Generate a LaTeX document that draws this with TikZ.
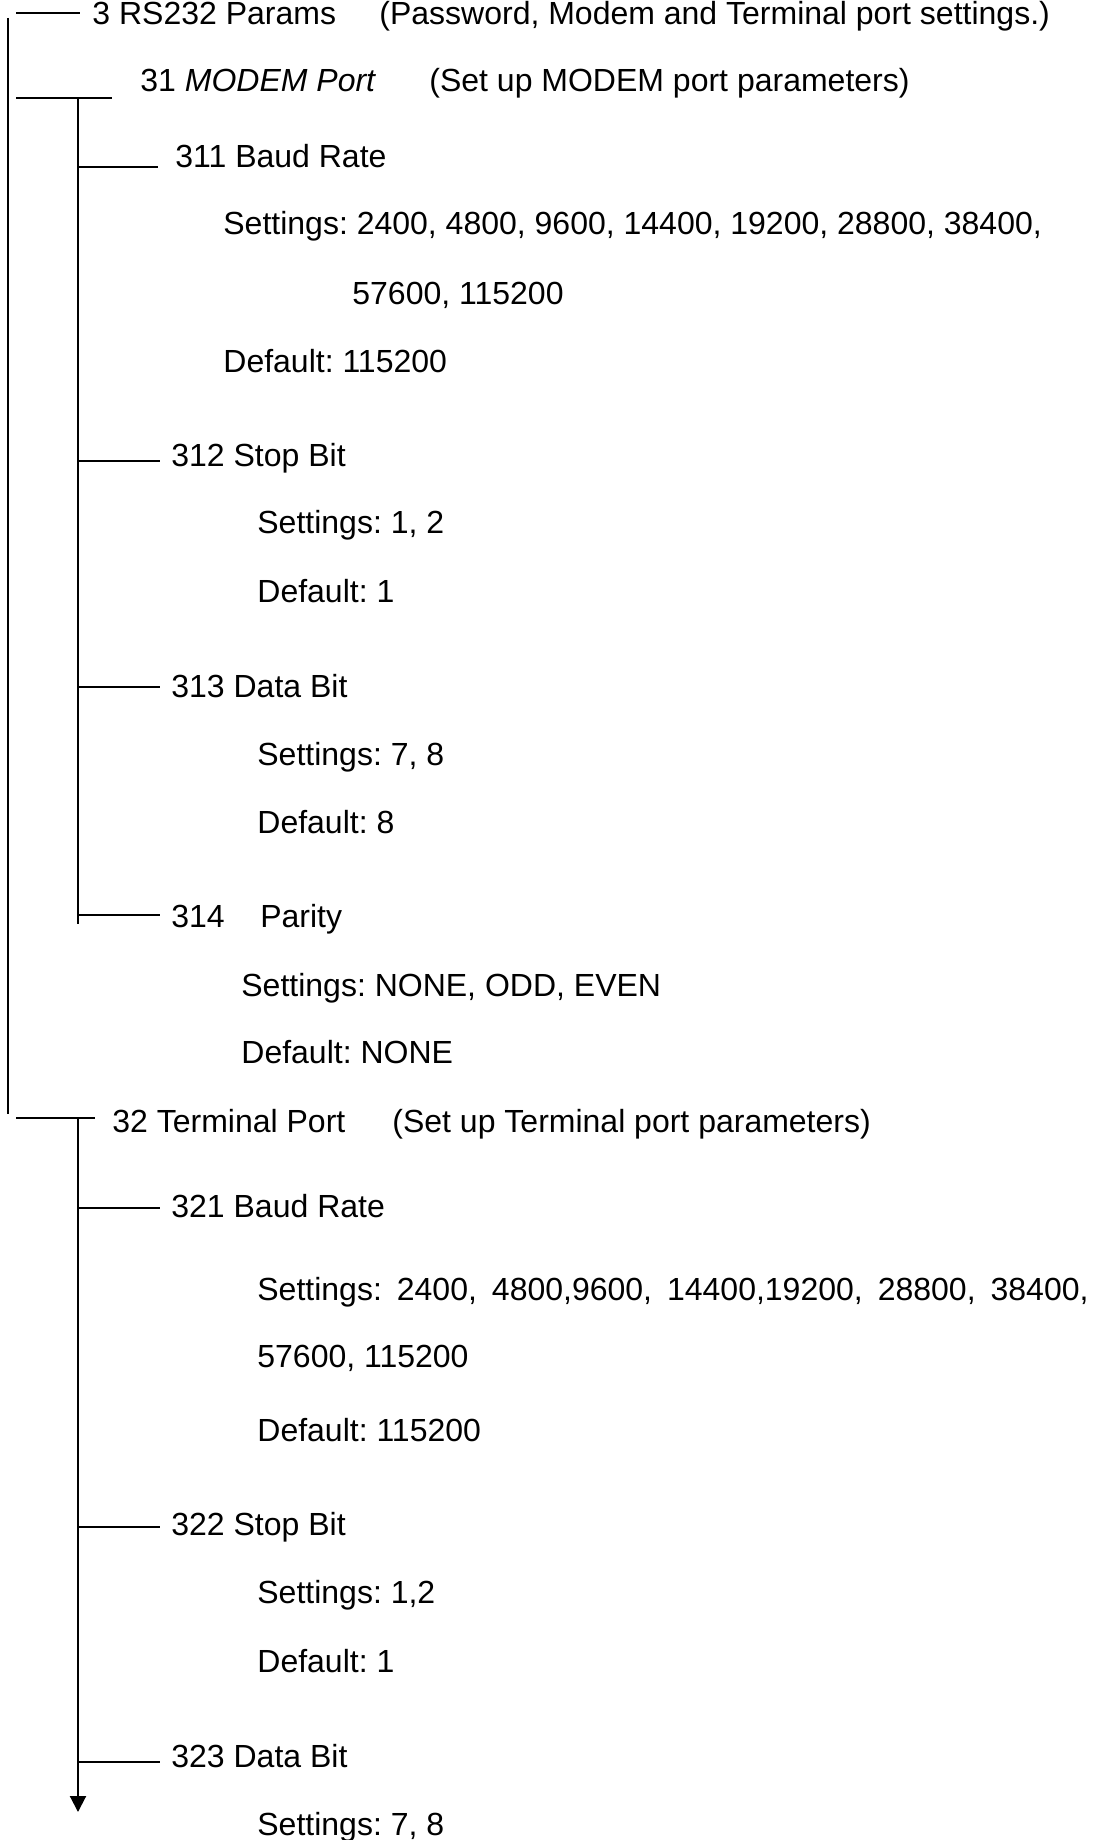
\documentclass[tikz,border=0pt]{standalone}
\usepackage{fontspec}
\setmainfont{Liberation Sans}
\usetikzlibrary{arrows.meta,calc}
\frenchspacing
\newcommand{\wsp}{\hspace{7.5pt}}

\begin{document}
\begin{tikzpicture}[
  x=0.5pt, y=-0.5pt,
  >={Triangle[width=8pt,length=8pt]},
  font=\fontsize{16}{19}\selectfont,
  txt/.style={anchor=base west, inner sep=0pt},
  tree/.style={line width=1pt},
  arr/.style={tree, ->}
]
\useasboundingbox (0,0) rectangle (1099,1840);

% menu 3
\node[txt] (p3) at (92,25) {3 RS232 Params};
\node[txt] (p3n) at (379,25) {(Password, Modem and Terminal port settings.)};

% menu 31
\node[txt] (p31) at (140,92) {31 \textit{MODEM Port}};
\node[txt] (p31n) at (429,92) {(Set up MODEM port parameters)};
\node[txt] (p311) at (175,168) {311 Baud Rate};
\node[txt] (s311a) at (223,235) {Settings: 2400, 4800, 9600, 14400, 19200, 28800, 38400,};
\node[txt] (s311b) at (352,305) {57600, 115200};
\node[txt] (d311) at (223,372) {Default: 115200};
\node[txt] (p312) at (171,466) {312 Stop Bit};
\node[txt] (s312) at (257,533) {Settings: 1, 2};
\node[txt] (d312) at (257,602) {Default: 1};
\node[txt] (p313) at (171,697) {313 Data Bit};
\node[txt] (s313) at (257,765) {Settings: 7, 8};
\node[txt] (d313) at (257,833) {Default: 8};
\node[txt] (p314) at (171,927) {314\ \ \ \ Parity};
\node[txt] (s314) at (241,996) {Settings: NONE, ODD, EVEN};
\node[txt] (d314) at (241,1063) {Default: NONE};

% menu 32
\node[txt] (p32) at (112,1132) {32 Terminal Port};
\node[txt] (p32n) at (392,1132) {(Set up Terminal port parameters)};
\node[txt] (p321) at (171,1217) {321 Baud Rate};
\node[txt] (s321a) at (257,1300) {Settings:\wsp2400,\wsp4800,9600,\wsp14400,19200,\wsp28800,\wsp38400,};
\node[txt] (s321b) at (257,1367) {57600, 115200};
\node[txt] (d321) at (257,1441) {Default: 115200};
\node[txt] (p322) at (171,1535) {322 Stop Bit};
\node[txt] (s322) at (257,1603) {Settings: 1,2};
\node[txt] (d322) at (257,1672) {Default: 1};
\node[txt] (p323) at (171,1767) {323 Data Bit};
\node[txt] (s323) at (257,1835) {Settings: 7, 8};

% trunks
\coordinate (rootA) at (8,18);
\coordinate (rootB) at (8,1114);
\coordinate (modA) at (78,98);
\coordinate (modB) at (78,924);
\coordinate (terA) at (78,1118);
\coordinate (terB) at (78,1812);
\draw[tree] (rootA) -- (rootB);
\draw[tree] (modA) -- (modB);
\draw[arr] (terA) -- (terB);

% branches
\foreach \n/\xa/\y/\gap in {3/16/13/12, 31/16/98/28, 32/16/1118/17,
    311/78/167/17, 312/78/461/11, 313/78/687/11, 314/78/915/11,
    321/78/1208/11, 322/78/1527/11, 323/78/1762/11} {
  \coordinate (j\n) at (\xa,\y);
  \draw[tree] (j\n) -- ($(j\n -| p\n.west)+(-\gap,0)$);
}
\end{tikzpicture}
\end{document}
